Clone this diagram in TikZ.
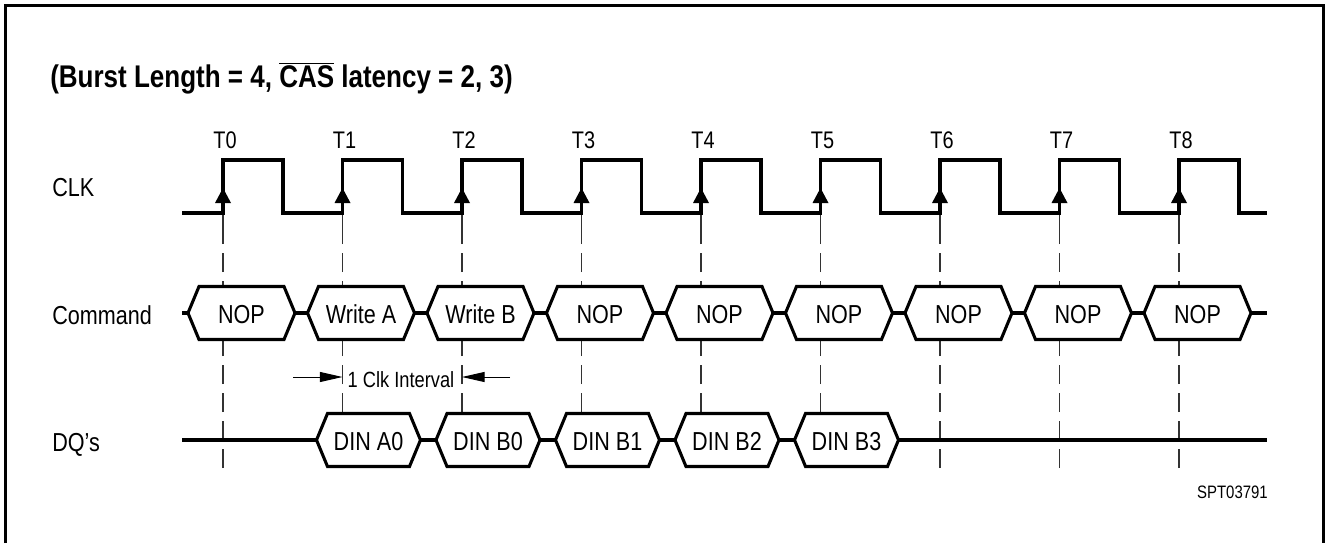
\documentclass[tikz,border=0pt]{standalone}
\usepackage{fontspec}
\setmainfont{Liberation Sans}[FakeStretch=0.83]
\usetikzlibrary{arrows.meta}
\begin{document}
\begin{tikzpicture}[x=0.75pt,y=-0.75pt,
  sig/.style={line width=2.3pt, line join=miter},
  hexbox/.style={sig, fill=white},
  guide/.style={line width=0.8pt, black!80, dash pattern=on 14.25pt off 6.75pt},
  lbl/.style={inner sep=0pt, anchor=base, font=\fontsize{19.5}{22}\selectfont},
  tlbl/.style={lbl, font=\fontsize{18}{21}\selectfont},
  ivlbl/.style={lbl, font=\fontsize{16.5}{19}\selectfont},
  rowlbl/.style={lbl, anchor=base west},
  ttl/.style={inner sep=0pt, anchor=base west, font=\fontsize{23.5}{26}\selectfont\bfseries},
  small/.style={inner sep=0pt, anchor=base east, font=\fontsize{13.5}{16}\selectfont},
  ivarrow/.style={line width=0.75pt, -{Triangle[length=17pt,width=7.5pt]}}
]
\useasboundingbox (0,0) rectangle (1327,543);
% frame
\draw[line width=2.6pt] (5.5,543) -- (5.5,5.5) -- (1323.5,5.5) -- (1323.5,543);
% title
\node[ttl] (title) at (50,87) {(Burst Length = 4, $\overline{\mbox{CAS}}$ latency = 2, 3)};
% row labels
\node[rowlbl] (lclk) at (52,196.5) {CLK};
\node[rowlbl] (lcmd) at (52,324) {Command};
\node[rowlbl] (ldq) at (52,451) {DQ's};
% guide lines and T labels
\foreach \k in {0,...,8} {
  \pgfmathsetmacro\t{223+119.5*\k}
  \draw[guide] (\t,468) -- (\t,213);
  \draw[line width=0.8pt, black!80] (\t,203) -- (\t,226);
  \node[tlbl] (T\k) at (\t+2,148) {T\k};
}
% signal base lines
\draw[sig] (182,313) -- (1267,313);
\draw[sig] (182,440) -- (1267,440);
% command hexes
\foreach \k/\txt in {0/NOP,1/Write A,2/Write B,3/NOP,4/NOP,5/NOP,6/NOP,7/NOP,8/NOP} {
  \pgfmathsetmacro\t{223+119.5*\k}
  \draw[hexbox] (\t-35,313) -- (\t-24,286.5) -- (\t+61,286.5) -- (\t+72,313) -- (\t+61,339.5) -- (\t-24,339.5) -- cycle;
  \node[lbl] (cmd\k) at (\t+18.5,323) {\txt};
}
% DQ hexes
\foreach \k/\txt in {1/DIN A0,2/DIN B0,3/DIN B1,4/DIN B2,5/DIN B3} {
  \pgfmathsetmacro\t{223+119.5*\k}
  \draw[hexbox] (\t-26,440) -- (\t-15,413.5) -- (\t+67,413.5) -- (\t+78,440) -- (\t+67,466.5) -- (\t-15,466.5) -- cycle;
  \node[lbl] (dq\k) at (\t+26,450) {\txt};
}
% clock
\draw[sig] (182,213) \foreach \k in {0,...,8} { -- ({223+119.5*\k},213) -- ({223+119.5*\k},160) -- ({283+119.5*\k},160) -- ({283+119.5*\k},213) } -- (1267,213);
\foreach \k in {0,...,8} {
  \pgfmathsetmacro\t{223+119.5*\k}
  \fill (\t,188) -- (\t-8,203) -- (\t+8,203) -- cycle;
}
% 1 clk interval
\node[ivlbl] (ivl) at (401,387) {1 Clk Interval};
\coordinate (ivA) at (293,377);
\coordinate (ivB) at (342.5,377);
\coordinate (ivC) at (510,377);
\coordinate (ivD) at (462,377);
\draw[ivarrow] (ivA) -- (ivB);
\draw[ivarrow] (ivC) -- (ivD);
% id
\node[small] (spt) at (1268,498) {SPT03791};
\end{tikzpicture}
\end{document}
